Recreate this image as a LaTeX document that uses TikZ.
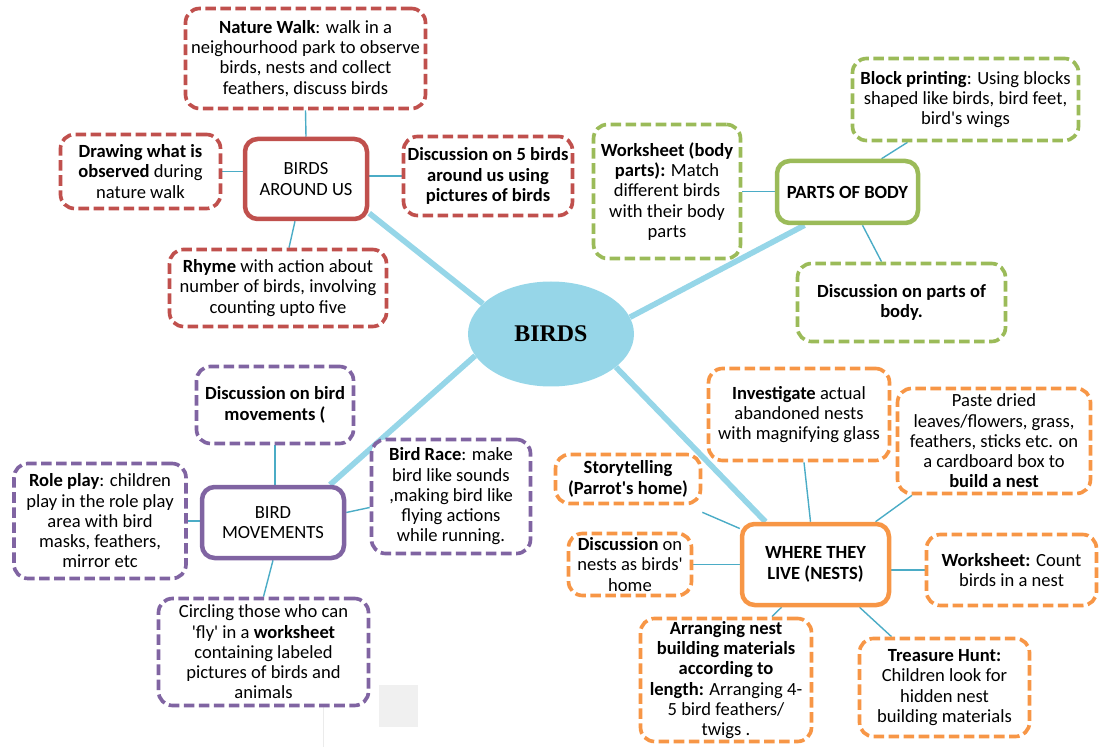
\documentclass[tikz,border=0pt]{standalone}
\usepackage{fontspec}
\setmainfont{Carlito}
\newfontfamily\titlefont{Liberation Serif}
\usepackage{xcolor,tikz}
\usetikzlibrary{shapes.geometric}

\definecolor{birdred}{HTML}{C0504D}
\definecolor{birdgreen}{HTML}{9BBB59}
\definecolor{birdpurple}{HTML}{8064A2}
\definecolor{birdorange}{HTML}{F79646}
\definecolor{trunkblue}{HTML}{96D6E8}
\definecolor{twigblue}{HTML}{4BACC6}

\pgfdeclarelayer{background}
\pgfsetlayers{background,main}

\newcommand{\mapsize}{\fontsize{13.2}{14.4}\selectfont}

\tikzset{
  dims/.style 2 args={minimum width=#1*0.025cm, minimum height=#2*0.025cm},
  topic/.style={draw=#1, line width=3.2pt, rounded corners=9pt, fill=white, align=center, inner sep=1pt},
  idea/.style={draw=#1, line width=2.6pt, dash pattern=on 7.5pt off 3.2pt, rounded corners=10pt, fill=white, align=center, inner sep=1pt},
  trunk/.style={draw=trunkblue, line width=4pt},
  twig/.style={draw=twigblue, line width=1pt}
}

\begin{document}
\begin{tikzpicture}[x=0.025cm, y=-0.025cm, font=\mapsize]
          \useasboundingbox (0,0) rectangle (1104,747);
          \fill[black!6] (379,685) rectangle (418,727);
          \draw[black!8, line width=0.6pt] (323,677) -- (323,747);

          \node[ellipse, fill=trunkblue, dims={166}{105}, inner sep=0pt, font=\titlefont\fontsize{17}{20}\selectfont\bfseries] (birds) at (551,334) {BIRDS};

          \node[topic=birdred, dims={122}{80}] (around) at (306,179) {BIRDS\\AROUND US};
          \node[idea=birdred, dims={240}{100}] (walk) at (305.5,58.5) {\textbf{Nature Walk}: walk in a\\neighourhood park to observe\\birds, nests and collect\\feathers, discuss birds};
          \node[idea=birdred, dims={160}{74}] (drawing) at (140.5,171.5) {\textbf{Drawing what is}\\\textbf{observed} during\\nature walk};
          \node[idea=birdred, dims={169}{79}, font=\mapsize\bfseries] (talkfive) at (488,176) {Discussion on 5 birds\\around us using\\pictures of birds};
          \node[idea=birdred, dims={217}{77}] (rhyme) at (278,288) {\textbf{Rhyme} with action about\\number of birds, involving\\counting upto five};

          \node[topic=birdgreen, dims={141}{62}] (parts) at (847.5,192) {\textbf{PARTS OF BODY}};
          \node[idea=birdgreen, dims={226}{82}] (block) at (965.5,99.5) {\textbf{Block printing}: Using blocks\\shaped like birds, bird feet,\\bird\textquotesingle s wings};
          \node[idea=birdgreen, dims={147}{134}] (sheetbody) at (667,191.5) {\textbf{Worksheet (body}\\\textbf{parts):} Match\\different birds\\with their body\\parts};
          \node[idea=birdgreen, dims={208}{78}, font=\mapsize\bfseries] (talkparts) at (901.5,302.5) {Discussion on parts of\\body.};

          \node[topic=birdpurple, dims={142}{71}] (moves) at (273,522.5) {BIRD\\MOVEMENTS};
          \node[idea=birdpurple, dims={157}{77}, font=\mapsize\bfseries] (talkmoves) at (275,405) {Discussion on bird\\movements (};
          \node[idea=birdpurple, dims={172}{115}] (roleplay) at (100,521) {\textbf{Role play}: children\\play in the role play\\area with bird\\masks, feathers,\\mirror etc};
          \node[idea=birdpurple, dims={159}{114}] (race) at (451,496.5) {\textbf{Bird Race}: make\\bird like sounds\\,making bird like\\flying actions\\while running.};
          \node[idea=birdpurple, dims={210}{107}] (circling) at (263.5,652) {Circling those who can\\\textquotesingle fly\textquotesingle\ in a \textbf{worksheet}\\containing labeled\\pictures of birds and\\animals};

          \node[topic=birdorange, dims={147}{81}, font=\mapsize\bfseries] (nests) at (815.5,564.5) {WHERE THEY\\LIVE (NESTS)};
          \node[idea=birdorange, dims={181}{92}] (investigate) at (799,414.5) {\textbf{Investigate} actual\\abandoned nests\\with magnifying glass};
          \node[idea=birdorange, dims={193}{105}] (paste) at (994,441) {Paste dried\\leaves/flowers, grass,\\feathers, sticks etc. on\\a cardboard box to\\\textbf{build a nest}};
          \node[idea=birdorange, dims={145}{49}, font=\mapsize\bfseries] (story) at (628,479) {Storytelling\\(Parrot\textquotesingle s home)};
          \node[idea=birdorange, dims={123}{62}] (talknests) at (630,564.5) {\textbf{Discussion} on\\nests as birds\textquotesingle\\home};
          \node[idea=birdorange, dims={170}{71}] (sheetcount) at (1011.5,570) {\textbf{Worksheet:} Count\\birds in a nest};
          \node[idea=birdorange, dims={171}{123}] (arranging) at (726,680) {\textbf{Arranging nest}\\\textbf{building materials}\\\textbf{according to}\\\textbf{length:} Arranging 4-\\5 bird feathers/\\twigs .};
          \node[idea=birdorange, dims={170}{98}] (treasure) at (944.5,687.5) {\textbf{Treasure Hunt:}\\Children look for\\hidden  nest\\building materials};

          \begin{pgfonlayer}{background}
            \draw[trunk] ([shift={(0,-8)}]around.south east) -- (birds.156);
            \draw[trunk] ([shift={(-43,0)}]parts.south) -- (birds.12);
            \draw[trunk] ([shift={(57,0)}]moves.north) -- (birds.196);
            \draw[trunk] ([shift={(-50,0)}]nests.north) -- (birds.333);

            \draw[twig] (walk.south) -- (around.north);
            \draw[twig] (drawing.east) -- (drawing.east -| around.west);
            \draw[twig] (talkfive.west) -- (talkfive.west -| around.east);
            \draw[twig] ([shift={(11,0)}]rhyme.north) -- ([shift={(-11,0)}]around.south);

            \draw[twig] ([shift={(-58,0)}]block.south) -- ([shift={(34,0)}]parts.north);
            \draw[twig] (sheetbody.east) -- (sheetbody.east -| parts.west);
            \draw[twig] ([shift={(15,0)}]parts.south) -- ([shift={(-20,0)}]talkparts.north);

            \draw[twig] (talkmoves.south) -- (talkmoves.south |- moves.north);
            \draw[twig] (roleplay.east) -- (roleplay.east -| moves.west);
            \draw[twig] ([shift={(0,11)}]race.west) -- ([shift={(0,-10)}]moves.east);
            \draw[twig] (circling.north) -- (moves.south);

            \draw[twig] ([shift={(5,0)}]investigate.south) -- ([shift={(-5,0)}]nests.north);
            \draw[twig] ([shift={(-82,0)}]paste.south) -- ([shift={(60,0)}]nests.north);
            \draw[twig] ([shift={(0,7)}]story.south east) -- ([shift={(0,-36)}]nests.west);
            \draw[twig] (talknests.east) -- (talknests.east -| nests.west);
            \draw[twig] (sheetcount.west) -- (sheetcount.west -| nests.east);
            \draw[twig] ([shift={(46,0)}]arranging.north) -- ([shift={(-34,0)}]nests.south);
            \draw[twig] ([shift={(-53,0)}]treasure.north) -- ([shift={(44,0)}]nests.south);
          \end{pgfonlayer}
        \end{tikzpicture}
\end{document}
